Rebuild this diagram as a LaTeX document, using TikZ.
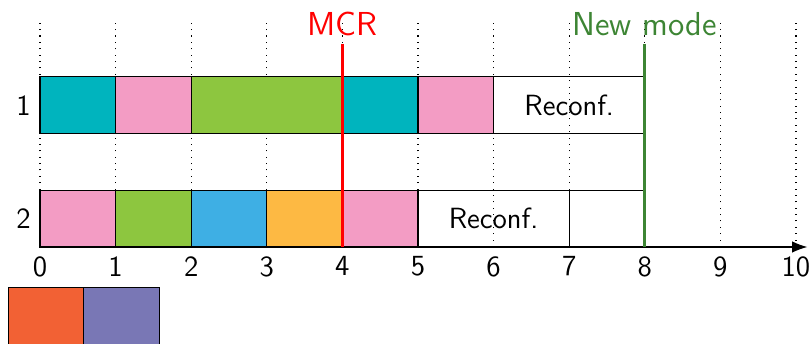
\documentclass[tikz,border=0pt]{standalone}
\usetikzlibrary{arrows.meta, positioning}
\definecolor{cteal}{RGB}{0,180,190}
\definecolor{cpink}{RGB}{243,156,196}
\definecolor{cgreen}{RGB}{141,198,63}
\definecolor{cblue}{RGB}{62,175,228}
\definecolor{corange}{RGB}{253,185,67}
\definecolor{cred}{RGB}{242,97,52}
\definecolor{cpurple}{RGB}{121,119,181}
\definecolor{modegreen}{RGB}{61,133,52}

\begin{document}
\begin{tikzpicture}[
    font=\sffamily\fontsize{11}{13}\selectfont,
    slot/.style={
        rectangle,
        draw=black,
        anchor=south west,
        minimum height=0.75cm,
        minimum width=1cm,
        inner sep=0pt,
        outer sep=0pt
    },
    grid/.style={dotted, thin},
    marker/.style={line width=1.2pt},
    event/.style={above, inner sep=2pt, font=\sffamily\fontsize{12.5}{14}\selectfont}
]
\useasboundingbox (-0.529,-1.283) rectangle (10.212,3.267);

% time grid and ticks
\foreach \t in {0,...,10} {
    \draw [grid] (\t,0) -- (\t,3.0);
    \node (tick\t) [below] at (\t,0) {\t};
}

% row 1
\node (r1a) [slot, fill=cteal] at (0,1.5) {};
\node (r1b) [slot, fill=cpink] at (1,1.5) {};
\node (r1c) [slot, fill=cgreen, minimum width=2cm] at (2,1.5) {};
\node (r1d) [slot, fill=cteal] at (4,1.5) {};
\node (r1e) [slot, fill=cpink] at (5,1.5) {};
\node (r1f) [slot, minimum width=2cm] at (6,1.5) {Reconf.};
\node (row1) [left=0pt of r1a] {1};

% row 2
\node (r2a) [slot, fill=cpink] at (0,0) {};
\node (r2b) [slot, fill=cgreen] at (1,0) {};
\node (r2c) [slot, fill=cblue] at (2,0) {};
\node (r2d) [slot, fill=corange] at (3,0) {};
\node (r2e) [slot, fill=cpink] at (4,0) {};
\node (r2f) [slot, minimum width=2cm] at (5,0) {Reconf.};
\node (r2g) [slot] at (7,0) {};
\node (row2) [left=0pt of r2a] {2};

% legend
\node (lega) [slot, fill=cred] at (-0.42,-1.29) {};
\node (legb) [slot, fill=cpurple, right=0pt of lega] {};

% axis
\coordinate (origin) at (0,0);
\coordinate (tend) at (10.15,0);
\draw [-{Latex[length=2mm]}] (origin) -- (tend);

% mode change request and new mode
\coordinate (mcrbot) at (4,0);
\coordinate (mcrtop) at (4,2.69);
\node (mcr) [event, text=red] at (4,2.72) {MCR};
\draw [marker, red] (mcrbot) -- (mcrtop);

\coordinate (newbot) at (8,0);
\coordinate (newtop) at (8,2.69);
\node (newmode) [event, text=modegreen] at (8,2.72) {New mode};
\draw [marker, modegreen] (newbot) -- (newtop);

\end{tikzpicture}
\end{document}
